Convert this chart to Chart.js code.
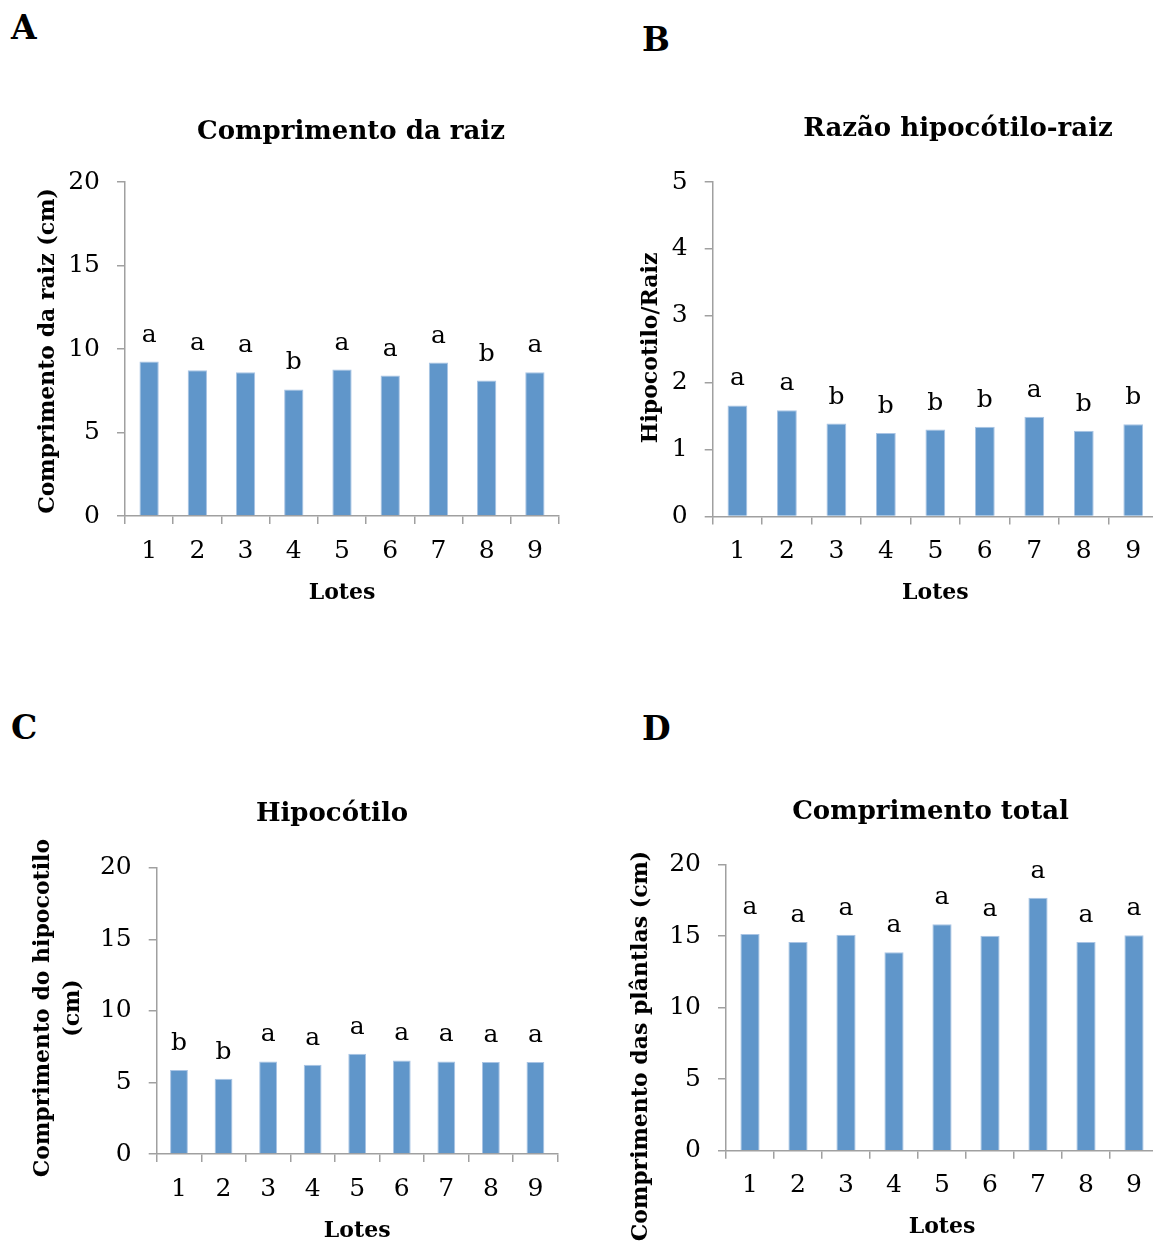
<!DOCTYPE html>
<html>
<head>
<meta charset="utf-8">
<script src="https://cdn.jsdelivr.net/npm/chart.js@4.4.1/dist/chart.umd.min.js"></script>
<style>
  html, body { margin: 0; padding: 0; background: #fff; overflow: hidden; width: 1153px; height: 1241px; }
  #wrap { position: relative; width: 1153px; height: 1241px; overflow: hidden; }
  canvas { position: absolute; }
  .plabel { position: absolute; font: bold 33px "DejaVu Serif", serif; line-height: 33px; color: #000; }
</style>
</head>
<body>
<div id="wrap">
  <div class="plabel" style="left:11px;top:11px">A</div>
  <div class="plabel" style="left:642px;top:23px">B</div>
  <div class="plabel" style="left:11px;top:711px">C</div>
  <div class="plabel" style="left:642px;top:712px">D</div>
</div>
<script>
// ---------- DATA ----------
const lotes = ['1', '2', '3', '4', '5', '6', '7', '8', '9'];

const raizValues   = [9.25, 8.73, 8.61, 7.58, 8.77, 8.41, 9.19, 8.11, 8.61];
const raizLetters  = ['a', 'a', 'a', 'b', 'a', 'a', 'a', 'b', 'a'];

const razaoValues  = [1.66, 1.59, 1.39, 1.25, 1.30, 1.34, 1.49, 1.28, 1.38];
const razaoLetters = ['a', 'a', 'b', 'b', 'b', 'b', 'a', 'b', 'b'];

const hipoValues   = [5.87, 5.26, 6.47, 6.24, 7.01, 6.54, 6.47, 6.43, 6.43];
const hipoLetters  = ['b', 'b', 'a', 'a', 'a', 'a', 'a', 'a', 'a'];

const totalValues  = [15.15, 14.59, 15.10, 13.87, 15.83, 15.03, 17.69, 14.59, 15.06];
const totalLetters = ['a', 'a', 'a', 'a', 'a', 'a', 'a', 'a', 'a'];

const yTicksCm    = [0, 5, 10, 15, 20];
const yTicksRazao = [0, 1, 2, 3, 4, 5];

const titles = ['Comprimento da raiz', 'Razão hipocótilo-raiz', 'Hipocótilo', 'Comprimento total'];
const yTitles = [['Comprimento da raiz (cm)'], ['Hipocotilo/Raiz'], ['Comprimento do hipocotilo', '(cm)'], ['Comprimento das plântlas (cm)']];
const xTitle = 'Lotes';

// ---------- LAYOUT (page coordinates) ----------
const FONT = '"DejaVu Serif", serif';
const Y_SCALE_W = 60, X_SCALE_H = 90;
const panels = [
  { values: raizValues,  letters: raizLetters,  ticks: yTicksCm,    title: titles[0], yTitle: yTitles[0],
    canvas: {x: 0,   y: 90,  w: 600, h: 540}, area: {L: 125,   T: 182,   R: 559,  B: 516},
    titlePos: {x: 351, y: 132}, yTitlePos: {x: 48, y: 351} },
  { values: razaoValues, letters: razaoLetters, ticks: yTicksRazao, title: titles[1], yTitle: yTitles[1],
    canvas: {x: 600, y: 90,  w: 580, h: 540}, area: {L: 712.7, T: 182,   R: 1158, B: 516.5},
    titlePos: {x: 958, y: 129}, yTitlePos: {x: 651, y: 348} },
  { values: hipoValues,  letters: hipoLetters,  ticks: yTicksCm,    title: titles[2], yTitle: yTitles[2],
    canvas: {x: 0,   y: 760, w: 600, h: 500}, area: {L: 156.7, T: 867.7, R: 557.7, B: 1154},
    titlePos: {x: 332, y: 814}, yTitlePos: {x: 58, y: 1008} },
  { values: totalValues, letters: totalLetters, ticks: yTicksCm,    title: titles[3], yTitle: yTitles[3],
    canvas: {x: 600, y: 760, w: 580, h: 500}, area: {L: 726,   T: 864.7, R: 1158, B: 1150.7},
    titlePos: {x: 930.5, y: 812}, yTitlePos: {x: 641, y: 1046} }
];

const panelText = {
  id: 'panelText',
  afterDraw(chart, args, o) {
    const ctx = chart.ctx;
    ctx.save();
    ctx.fillStyle = '#000';
    ctx.textAlign = 'center';
    ctx.textBaseline = 'middle';
    ctx.font = 'bold 26px ' + FONT;
    ctx.fillText(o.title, o.titleX, o.titleY);
    ctx.save();
    ctx.font = 'bold 22px ' + FONT;
    ctx.translate(o.yTitleX, o.yTitleY);
    ctx.rotate(-Math.PI / 2);
    const n = o.yTitle.length;
    o.yTitle.forEach((t, i) => ctx.fillText(t, 0, (i - (n - 1) / 2) * 30));
    ctx.restore();
    ctx.font = '25px ' + FONT;
    ctx.textBaseline = 'alphabetic';
    const meta = chart.getDatasetMeta(0);
    meta.data.forEach((bar, i) => ctx.fillText(o.letters[i], bar.x, bar.y - 20));
    ctx.restore();
  }
};

const wrap = document.getElementById('wrap');
panels.forEach(p => {
  const c = document.createElement('canvas');
  c.width = p.canvas.w; c.height = p.canvas.h;
  c.style.left = p.canvas.x + 'px'; c.style.top = p.canvas.y + 'px';
  c.style.width = p.canvas.w + 'px'; c.style.height = p.canvas.h + 'px';
  wrap.appendChild(c);
  const pad = {
    left: p.area.L - p.canvas.x - Y_SCALE_W,
    top: p.area.T - p.canvas.y,
    right: p.canvas.x + p.canvas.w - p.area.R,
    bottom: p.canvas.y + p.canvas.h - p.area.B - X_SCALE_H
  };
  const axisColor = '#A0A0A0';
  new Chart(c, {
    type: 'bar',
    data: {
      labels: lotes,
      datasets: [{
        data: p.values,
        backgroundColor: '#6096CA',
        borderColor: '#A9C4E4',
        borderWidth: 1,
        categoryPercentage: 1.0,
        barPercentage: 0.4
      }]
    },
    options: {
      responsive: false,
      animation: false,
      devicePixelRatio: 1,
      layout: { padding: pad },
      plugins: {
        legend: { display: false },
        tooltip: { enabled: false },
        title: { display: false },
        panelText: {
          title: p.title,
          titleX: p.titlePos.x - p.canvas.x, titleY: p.titlePos.y - p.canvas.y,
          yTitle: p.yTitle,
          yTitleX: p.yTitlePos.x - p.canvas.x, yTitleY: p.yTitlePos.y - p.canvas.y,
          letters: p.letters
        }
      },
      scales: {
        x: {
          afterFit(s) { s.height = X_SCALE_H; },
          grid: { display: true, drawOnChartArea: false, drawTicks: true, tickLength: 8, color: axisColor, lineWidth: 1.5, offset: true },
          border: { display: true, color: axisColor, width: 1.5 },
          ticks: { color: '#000', font: { family: FONT, size: 25 }, padding: 12, maxRotation: 0 },
          title: { display: true, text: xTitle, color: '#000', font: { family: FONT, size: 22, weight: 'bold' }, padding: 0 }
        },
        y: {
          min: p.ticks[0],
          max: p.ticks[p.ticks.length - 1],
          afterFit(s) { s.width = Y_SCALE_W; },
          afterBuildTicks(s) { s.ticks = p.ticks.map(v => ({ value: v })); },
          grid: { display: true, drawOnChartArea: false, drawTicks: true, tickLength: 8, color: axisColor, lineWidth: 1.5 },
          border: { display: true, color: axisColor, width: 1.5 },
          ticks: { color: '#000', font: { family: FONT, size: 25 }, padding: 17 }
        }
      }
    },
    plugins: [panelText]
  });
});
</script>
</body>
</html>
